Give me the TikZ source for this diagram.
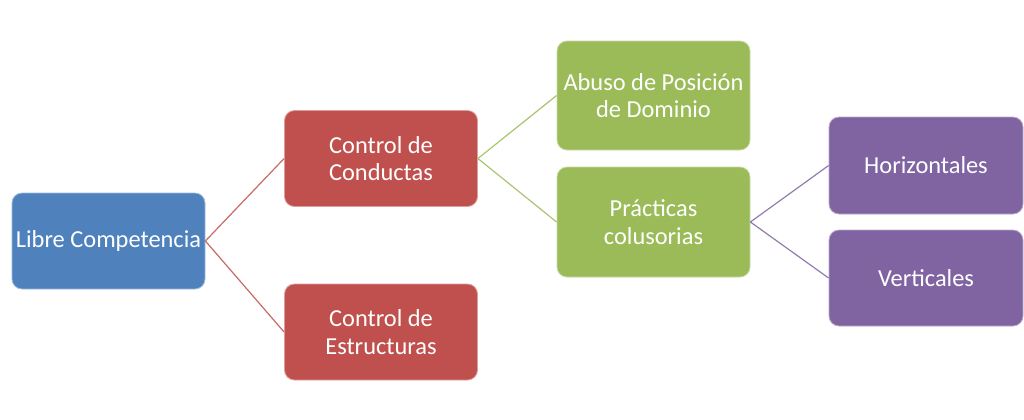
\documentclass[tikz,border=0pt]{standalone}
\usepackage{fontspec}
\setmainfont{Carlito}
\definecolor{cblue}{HTML}{4F81BD}
\definecolor{cred}{HTML}{C0504D}
\definecolor{cgreen}{HTML}{9BBB59}
\definecolor{cpurple}{HTML}{8064A2}
\tikzset{
  box/.style={rectangle, rounded corners=7.5pt, text=white, align=center,
    inner sep=0pt, line width=0.6pt,
    font=\fontsize{18.3}{20.5}\selectfont},
  bluebox/.style={box, fill=cblue, draw=cblue!55!white},
  redbox/.style={box, fill=cred, draw=cred!55!white},
  greenbox/.style={box, fill=cgreen, draw=cgreen!55!white},
  purplebox/.style={box, fill=cpurple, draw=cpurple!55!white},
  link/.style={line width=0.9pt}
}
\begin{document}
\begin{tikzpicture}[x=0.75pt,y=-0.75pt]
\useasboundingbox (0,0) rectangle (1024,419);
\node[bluebox, minimum width=144.75pt, minimum height=72pt] (lib) at (108.5,241) {Libre Competencia};
\node[redbox, minimum width=144.75pt, minimum height=72pt] (cond) at (381,158.5) {Control de\\Conductas};
\node[redbox, minimum width=144.75pt, minimum height=72pt] (estr) at (381,332) {Control de\\Estructuras};
\node[greenbox, minimum width=144.75pt, minimum height=81.75pt] (abuso) at (653.5,95.5) {Abuso de Posición\\de Dominio};
\node[greenbox, minimum width=144.75pt, minimum height=82.5pt] (prac) at (653.5,222) {Prácticas\\colusorias};
\node[purplebox, minimum width=145.5pt, minimum height=72.75pt] (hor) at (926,165.5) {Horizontales};
\node[purplebox, minimum width=145.5pt, minimum height=72pt] (ver) at (926,278) {Verticales};
\draw[link, cred!85!white] (lib.east) -- (cond.west);
\draw[link, cred!85!white] (lib.east) -- (estr.west);
\draw[link, cgreen!85!white] (cond.east) -- (abuso.west);
\draw[link, cgreen!85!white] (cond.east) -- (prac.west);
\draw[link, cpurple!85!white] (prac.east) -- (hor.west);
\draw[link, cpurple!85!white] (prac.east) -- (ver.west);
\end{tikzpicture}
\end{document}
